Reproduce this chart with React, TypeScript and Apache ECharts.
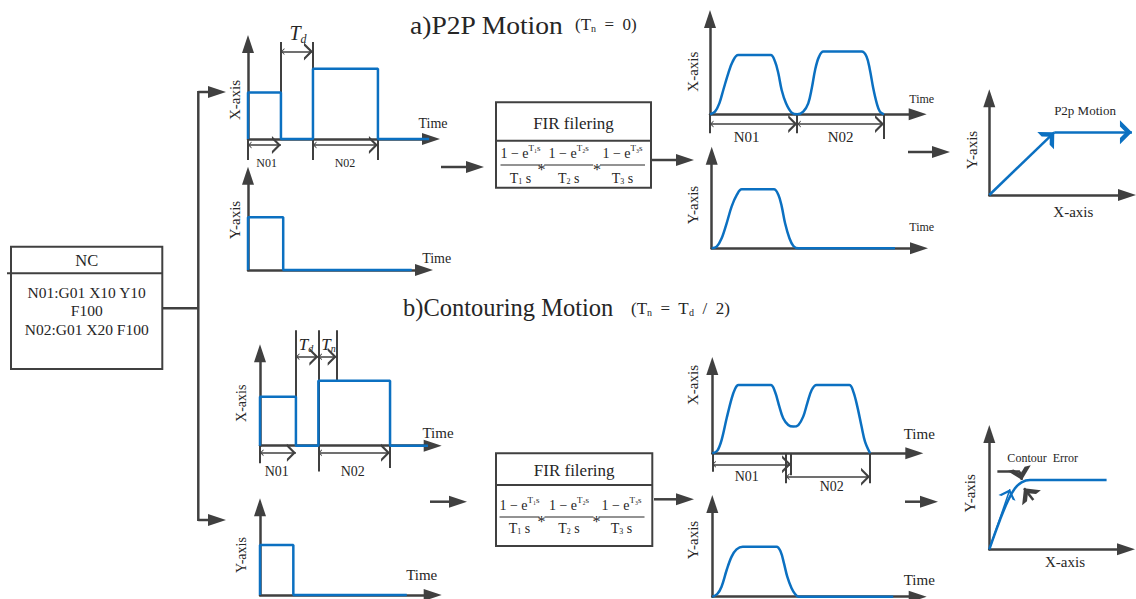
import React, { useEffect, useRef } from 'react';
import * as echarts from 'echarts';

const FONT = '"Liberation Serif", "Times New Roman", Times, serif';
const INK = '#262626';
const AXIS = '#404040';
const BLUE = '#0b70c1';

// ---------------- data (percent of each panel's time / amplitude range) ----------------
// a) P2P motion
const p2pXCommand = [[0, 0], [0, 49], [18, 49], [18, 0], [35.5, 0], [35.5, 74], [71, 74], [71, 0], [99, 0]];
const p2pYCommand = [[0, 0], [0, 56], [20, 56], [20, 0], [93, 0]];
const p2pXFiltered = [
  [0, 0], [2.4, 2.8], [4.5, 11.5], [6.4, 25.5], [8.8, 43], [10.9, 55.3], [13.6, 62.2],
  [29.2, 62.2], [31.3, 55.3], [32.9, 43], [34.5, 25.5], [36.6, 11.5], [39.3, 1.8], [42, 0],
  [44.9, 2.8], [47.3, 11.5], [49, 27.3], [50.6, 46.5], [52.4, 60], [54.6, 65.8],
  [73, 65.8], [75.4, 60.5], [77, 46.5], [78.6, 27.3], [80.3, 11.5], [81.8, 2.8], [83.8, 0],
];
const p2pYFiltered = [
  [0, 0], [2.4, 1.8], [4.8, 10.8], [7.2, 27], [9.6, 45], [12.1, 57.6], [14.5, 63.7],
  [30, 63.7], [32.2, 57.6], [33.8, 45], [35.4, 27], [37.5, 10.8], [39.4, 2.5], [41.8, 0], [88.4, 0],
];
const p2pPath = [[0, 0], [47.2, 64.8], [103.6, 64.8]];

// b) Contouring motion
const contourXCommand = [[0, 0], [0, 53], [20.8, 53], [20.8, 0], [33.8, 0], [33.8, 70.3], [75.3, 70.3], [75.3, 0], [97.3, 0]];
const contourYCommand = [[0, 0], [0, 57], [19.3, 57], [19.3, 0], [85, 0]];
const contourXFiltered = [
  [0, 0], [2.5, 3.1], [4.6, 15.2], [7.1, 40.1], [9.6, 63], [11.2, 73.3], [12.9, 78.2],
  [28.9, 78.2], [31, 70.7], [33.2, 53.5], [35.1, 40.1], [37.6, 32.4], [40.1, 30.6], [42.6, 32.4],
  [45, 42], [47, 57.3], [49.2, 72.5], [51.6, 78.2],
  [67.8, 78.2], [69.8, 70.7], [71.8, 53.5], [73.9, 30.6], [75.6, 13.4], [78.1, 0],
];
const contourYFiltered = [
  [0, 0], [2.4, 2.9], [4.5, 10.8], [7, 28.8], [9.4, 43.2], [11.8, 51], [14.8, 54],
  [31.3, 54], [33.3, 48.5], [34.9, 35.9], [36.5, 21.6], [38.6, 9], [40.3, 2.9], [41.9, 0], [88.1, 0],
];
const contourPath = [[0, 0], [7.8, 25.4], [13.9, 42.8], [18.8, 52.9], [23.6, 58.1], [29.8, 60.1], [85.8, 60.1]];
const contourIdeal = [[0, 0], [15.1, 52]];
const contourErrorLead = [[5.9, 67.4], [22.4, 67.4]];
const contourErrorPointers = [[[22.4, 67.4], [23.9, 60.2]], [[32.2, 42.8], [25.4, 52.9]]];

// dimension arrows [x1, x2, y] and extension lines [x, y1, y2]
const p2pXCommandDims = [[0, 18, -6.3], [35.5, 71, -6.3], [18, 35.5, 92]];
const p2pXCommandGuides = [[0, 0, -22], [18, 102, 0], [35.5, 102, -22], [71, 0, -22]];
const p2pXFilteredDims = [[0, 42, -10.2], [42, 83.8, -10.2]];
const p2pXFilteredGuides = [[0, 0, -20], [42, 0, -20], [83.8, 0, -26]];
const contourXCommandDims = [[0, 20.8, -7.6], [33.8, 75.3, -7.6], [20.8, 33.8, 96.3], [33.8, 44.4, 96.3]];
const contourXCommandGuides = [[0, 0, -19], [20.8, 125, 0], [33.8, 125, -28], [44.4, 125, 70.3], [75.3, 0, -24]];
const contourXFilteredDims = [[0, 39, -12.6], [36.5, 78.1, -26.8]];
const contourXFilteredGuides = [[0, 0, -21], [39, 0, -25], [36.5, 0, -34.4], [78.1, 0, -34.4]];

// ---------------- layout ----------------
const panels = [
  { left: 248, top: 44, width: 183, height: 95 },        // 0 a X command
  { left: 248, top: 175.7, width: 176, height: 94.3 },   // 1 a Y command
  { left: 710, top: 19, width: 207.7, height: 95.3 },    // 2 a X filtered
  { left: 711.7, top: 155.7, width: 207.3, height: 92.6 }, // 3 a Y filtered
  { left: 989.3, top: 98.3, width: 137.7, height: 96.7 }, // 4 a XY
  { left: 260, top: 353.3, width: 172.7, height: 92.4 },  // 5 b X command
  { left: 260, top: 507.3, width: 172.7, height: 87.7 },  // 6 b Y command
  { left: 712.3, top: 366, width: 202, height: 87.3 },    // 7 b X filtered
  { left: 712.3, top: 504, width: 205.4, height: 92.7 },  // 8 b Y filtered
  { left: 989.3, top: 434, width: 136.7, height: 115.3 }, // 9 b XY
];

const CHEV = 'path://M5,-10L5.01,-10L5.01,-9.99Z M0,10L5,0L10,10L8.3,10L5,3.4L1.7,10Z';
const CHEV_BOLD = 'path://M5,-10L5.01,-10L5.01,-9.99Z M0,10L5,0L10,10L7.4,10L5,5.2L2.6,10Z';

function axis(i: number) {
  return {
    type: 'value', gridIndex: i, min: 0, max: 100, silent: true,
    axisLine: { show: true, onZero: false, symbol: ['none', 'triangle'], symbolSize: [12, 18], lineStyle: { color: AXIS, width: 2.5 } },
    axisTick: { show: false }, axisLabel: { show: false }, splitLine: { show: false },
  };
}

function signal(i: number, data: number[][], smooth: number | boolean) {
  return {
    type: 'line', xAxisIndex: i, yAxisIndex: i, data, symbol: 'none', showSymbol: false, smooth,
    clip: false, silent: true, z: 5, lineStyle: { color: BLUE, width: 2.5 },
  };
}

function guides(i: number, list: number[][]) {
  return {
    type: 'lines', coordinateSystem: 'cartesian2d', xAxisIndex: i, yAxisIndex: i, clip: false, silent: true, z: 3,
    symbol: 'none', lineStyle: { color: AXIS, width: 2, opacity: 1, curveness: 0 },
    data: list.map(([x, y1, y2]) => ({ coords: [[x, y1], [x, y2]] })),
  };
}

function dims(i: number, list: number[][]) {
  return {
    type: 'lines', coordinateSystem: 'cartesian2d', xAxisIndex: i, yAxisIndex: i, clip: false, silent: true, z: 3,
    symbol: [CHEV, CHEV], symbolSize: [7, 18], lineStyle: { color: AXIS, width: 1.5, opacity: 1, curveness: 0 },
    data: list.map(([x1, x2, y]) => ({ coords: [[x1, y], [x2, y]] })),
  };
}

function segments(i: number, pts: number[][], color: string, width: number, head: string | null, size: number[]) {
  const data = [];
  for (let k = 0; k + 1 < pts.length; k++) data.push({ coords: [pts[k], pts[k + 1]] });
  return {
    type: 'lines', coordinateSystem: 'cartesian2d', xAxisIndex: i, yAxisIndex: i, clip: false, silent: true, z: 5,
    symbol: head ? ['none', head] : 'none', symbolSize: size, lineStyle: { color, width, opacity: 1, curveness: 0 },
    data,
  };
}

function pairs(i: number, list: number[][][], color: string, width: number, head: string, size: number[]) {
  return {
    type: 'lines', coordinateSystem: 'cartesian2d', xAxisIndex: i, yAxisIndex: i, clip: false, silent: true, z: 5,
    symbol: ['none', head], symbolSize: size, lineStyle: { color, width, opacity: 1, curveness: 0 },
    data: list.map((c) => ({ coords: c })),
  };
}

// ---------------- graphic helpers ----------------
function txt(x: number, y: number, text: string, size: number, extra: any = {}) {
  return {
    type: 'text', x, y, silent: true, ...extra,
    style: { text, fontSize: size, fontFamily: FONT, fill: INK, align: 'center', verticalAlign: 'middle', ...(extra.style || {}) },
  };
}
function vtxt(x: number, y: number, text: string, size: number) {
  return { ...txt(x, y, text, size), rotation: Math.PI / 2 };
}
function subTxt(x: number, y: number, main: string, sub: string, size: number, italic: boolean) {
  const st = italic ? 'italic' : 'normal';
  return {
    type: 'text', x, y, silent: true,
    style: {
      text: `{m|${main}}{s|${sub}}`, align: 'center', verticalAlign: 'middle', fontFamily: FONT, fill: INK,
      rich: {
        m: { fontSize: size, fontFamily: FONT, fontStyle: st, fill: INK },
        s: { fontSize: Math.round(size * 0.6), fontFamily: FONT, fontStyle: st, fill: INK, padding: [Math.round(size * 0.55), 0, 0, 0] },
      },
    },
  };
}
function richTxt(x: number, y: number, text: string, size: number, align = 'left') {
  return {
    type: 'text', x, y, silent: true,
    style: {
      text, align, verticalAlign: 'middle', fontFamily: FONT, fill: INK,
      rich: {
        m: { fontSize: size, fontFamily: FONT, fill: INK },
        s: { fontSize: Math.round(size * 0.6), fontFamily: FONT, fill: INK, padding: [Math.round(size * 0.5), 0, 0, 0] },
      },
    },
  };
}
function line(x1: number, y1: number, x2: number, y2: number, w = 2.5, color = AXIS) {
  return { type: 'line', silent: true, shape: { x1, y1, x2, y2 }, style: { stroke: color, lineWidth: w } };
}
function arrow(x1: number, x2: number, y: number) {
  return [
    line(x1, y, x2 - 12, y),
    { type: 'polygon', silent: true, shape: { points: [[x2, y], [x2 - 18, y - 6], [x2 - 18, y + 6]] }, style: { fill: AXIS } },
  ];
}
function rect(x: number, y: number, w: number, h: number) {
  return { type: 'rect', silent: true, shape: { x, y, width: w, height: h }, style: { fill: 'none', stroke: AXIS, lineWidth: 2 } };
}
const SUBS = ['', '\u2081', '\u2082', '\u2083'];
function fraction(cx: number, yNum: number, yBar: number, yDen: number, w: number, k: number) {
  return [
    {
      type: 'text', x: cx, y: yNum, silent: true,
      style: {
        text: `{m|1 \u2212 e}{p|T${SUBS[k]}s}`, align: 'center', verticalAlign: 'middle', fontFamily: FONT, fill: INK,
        rich: {
          m: { fontSize: 14, fontFamily: FONT, fill: INK },
          p: { fontSize: 9, fontFamily: FONT, fill: INK, padding: [0, 0, 10, 0] },
        },
      },
    },
    line(cx - w / 2, yBar, cx + w / 2, yBar, 1, INK),
    {
      type: 'text', x: cx, y: yDen, silent: true,
      style: {
        text: `{m|T}{s|${k}}{m| s}`, align: 'center', verticalAlign: 'middle', fontFamily: FONT, fill: INK,
        rich: {
          m: { fontSize: 14, fontFamily: FONT, fill: INK },
          s: { fontSize: 8, fontFamily: FONT, fill: INK, padding: [7, 0, 0, 0] },
        },
      },
    },
  ];
}
function firBox(x: number, y: number, w: number, h: number, divY: number, titleY: number, num: number, bar: number, den: number, cxs: number[], ws: number[], stars: number[]) {
  const els: any[] = [rect(x, y, w, h), line(x, divY, x + w, divY, 2), txt(x + w / 2, titleY, 'FIR filering', 17)];
  cxs.forEach((cx, k) => els.push(...fraction(cx, num, bar, den, ws[k], k + 1)));
  stars.forEach((sx) => els.push(txt(sx, bar + 4, '*', 16)));
  return els;
}

function buildOption() {
  const grid = panels.map((p) => ({ left: p.left, top: p.top, width: p.width, height: p.height }));
  const xAxis = panels.map((_, i) => axis(i));
  const yAxis = panels.map((_, i) => axis(i));

  const series: any[] = [
    guides(0, p2pXCommandGuides), dims(0, p2pXCommandDims), signal(0, p2pXCommand, false),
    signal(1, p2pYCommand, false),
    guides(2, p2pXFilteredGuides), dims(2, p2pXFilteredDims), signal(2, p2pXFiltered, 0.35),
    signal(3, p2pYFiltered, 0.35),
    segments(4, p2pPath, BLUE, 2.5, CHEV_BOLD, [11, 24]),
    guides(5, contourXCommandGuides), dims(5, contourXCommandDims), signal(5, contourXCommand, false),
    signal(6, contourYCommand, false),
    guides(7, contourXFilteredGuides), dims(7, contourXFilteredDims), signal(7, contourXFiltered, 0.35),
    signal(8, contourYFiltered, 0.35),
    signal(9, contourPath, 0.4),
    segments(9, contourIdeal, BLUE, 1.5, CHEV, [7, 18]),
    segments(9, contourErrorLead, AXIS, 2.5, null, [1, 1]),
    pairs(9, contourErrorPointers, AXIS, 2.5, CHEV_BOLD, [11, 24]),
  ];

  const g: any[] = [];
  // titles
  g.push(txt(410, 25, 'a)P2P Motion', 26, { scaleX: 1.06, style: { align: 'left' } }));
  g.push(richTxt(575, 24, '{m|(T}{s|n}{m|  =  0)}', 17));
  g.push(txt(403, 307, 'b)Contouring Motion', 24.5, { style: { align: 'left' } }));
  g.push(richTxt(631, 308, '{m|(T}{s|n}{m|  =  T}{s|d}{m|  /  2)}', 17));

  // NC block
  g.push(rect(11, 246.7, 151.3, 122.3));
  g.push(line(7, 273.3, 162.3, 273.3, 2));
  g.push(txt(86.7, 260.7, 'NC', 16.5));
  g.push(txt(86.7, 292.3, 'N01:G01 X10 Y10', 15.5));
  g.push(txt(86.7, 310, 'F100', 15.5));
  g.push(txt(86.7, 329.3, 'N02:G01 X20 F100', 15.5));
  g.push(line(162.3, 308.3, 198.3, 308.3));
  g.push(line(198.3, 91, 198.3, 521));
  g.push(...arrow(198.3, 226, 92), ...arrow(198.3, 226, 520));

  // flow arrows
  g.push(...arrow(441, 484, 167), ...arrow(652, 694, 160), ...arrow(908, 950, 152));
  g.push(...arrow(430, 467, 501.7), ...arrow(654, 694, 499.3), ...arrow(905, 938, 501.7));

  // FIR boxes
  g.push(...firBox(496, 102.3, 155, 85.4, 140.7, 123, 153, 165, 178, [520.5, 568.7, 622.5], [40, 49, 45], [541.5, 597]));
  g.push(...firBox(496, 453.3, 156.3, 92.7, 485, 470, 505, 517, 528, [519.5, 569, 621.5], [40, 49, 46], [541.5, 596.5]));

  // a) labels
  g.push(vtxt(235, 100, 'X-axis', 15), txt(433, 123, 'Time', 14), txt(266.7, 163, 'N01', 12), txt(345, 163, 'N02', 12));
  g.push(subTxt(298, 33, 'T', 'd', 20, true));
  g.push(vtxt(235, 220, 'Y-axis', 15), txt(436.7, 258, 'Time', 14));
  g.push(vtxt(693, 71.7, 'X-axis', 15), txt(921.7, 99, 'Time', 12), txt(746.7, 136.7, 'N01', 15), txt(840.7, 136.7, 'N02', 15));
  g.push(vtxt(693, 205, 'Y-axis', 15), txt(921.7, 226.7, 'Time', 12));
  g.push(vtxt(971.7, 150, 'Y-axis', 15), txt(1073.3, 211.7, 'X-axis', 15), txt(1085, 110, 'P2p Motion', 13));

  // b) labels
  g.push(vtxt(241.7, 403.3, 'X-axis', 14), txt(438, 432.7, 'Time', 15), txt(276.7, 471.7, 'N01', 14), txt(352.7, 471.7, 'N02', 14));
  g.push(subTxt(306, 344, 'T', 'd', 17, true), subTxt(328.5, 344, 'T', 'n', 17, true));
  g.push(vtxt(241.7, 555, 'Y-axis', 14), txt(421.7, 575, 'Time', 15));
  g.push(vtxt(693.3, 385, 'X-axis', 15), txt(919.3, 434, 'Time', 15), txt(746.7, 476.7, 'N01', 14), txt(831.7, 486.7, 'N02', 14));
  g.push(vtxt(693, 540, 'Y-axis', 15), txt(919.3, 580, 'Time', 15));
  g.push(vtxt(970, 493.3, 'Y-axis', 15), txt(1065, 561.7, 'X-axis', 15), txt(1042.7, 458.3, 'Contour  Error', 12));

  return { animation: false, backgroundColor: '#ffffff', grid, xAxis, yAxis, series, graphic: { elements: g } };
}

export default function App() {
  const ref = useRef<HTMLDivElement>(null);
  useEffect(() => {
    const chart = echarts.init(ref.current as HTMLDivElement, null, { renderer: 'svg' });
    chart.setOption(buildOption() as any);
    return () => chart.dispose();
  }, []);
  return <div ref={ref} style={{ position: 'absolute', left: 0, top: 0, width: 1136, height: 599, background: '#fff' }} />;
}
